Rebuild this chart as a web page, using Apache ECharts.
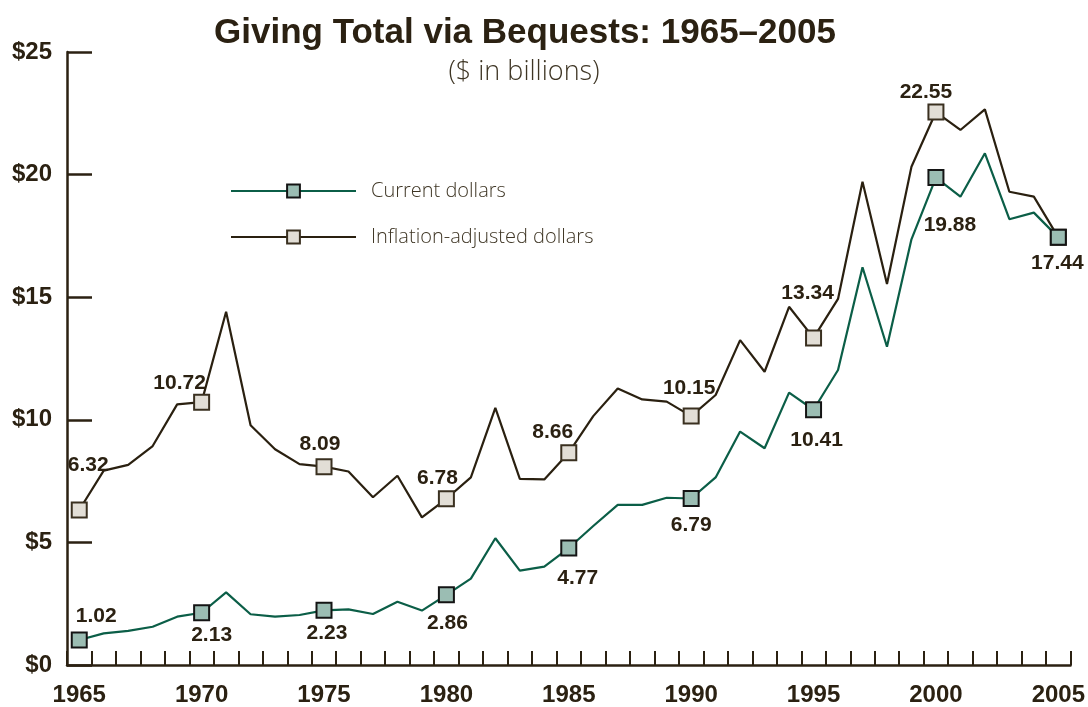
<!DOCTYPE html>
<html>
<head>
<meta charset="utf-8">
<script src="https://cdn.jsdelivr.net/npm/echarts@6/dist/echarts.min.js"></script>
<style>
  html, body { margin: 0; padding: 0; background: #ffffff; }
  #chart { width: 1088px; height: 707px; }
</style>
</head>
<body>
<div id="chart"></div>
<script>
// ---- Data ----
const years = ['1965','1966','1967','1968','1969','1970','1971','1972','1973','1974',
  '1975','1976','1977','1978','1979','1980','1981','1982','1983','1984',
  '1985','1986','1987','1988','1989','1990','1991','1992','1993','1994',
  '1995','1996','1997','1998','1999','2000','2001','2002','2003','2004','2005'];

const currentDollars = [1.02, 1.29, 1.39, 1.56, 1.97, 2.13, 2.96, 2.07, 1.97, 2.04,
  2.23, 2.27, 2.08, 2.58, 2.22, 2.86, 3.52, 5.17, 3.85, 4.01,
  4.77, 5.67, 6.53, 6.53, 6.82, 6.79, 7.65, 9.52, 8.84, 11.11,
  10.41, 12.03, 16.22, 12.98, 17.36, 19.88, 19.10, 20.87, 18.18, 18.45, 17.44];

const inflationAdjusted = [6.32, 7.93, 8.16, 8.93, 10.63, 10.72, 14.41, 9.78, 8.80, 8.19,
  8.09, 7.89, 6.84, 7.72, 6.02, 6.78, 7.65, 10.49, 7.59, 7.57,
  8.66, 10.15, 11.28, 10.83, 10.74, 10.15, 11.01, 13.25, 11.96, 14.61,
  13.34, 14.93, 19.71, 15.54, 20.32, 22.55, 21.82, 22.66, 19.30, 19.10, 17.44];

const seriesNames = ['Current dollars', 'Inflation-adjusted dollars'];
const yTicks = [0, 5, 10, 15, 20, 25];

// ---- Label placement (offsets from marker centre, px) ----
const currentLabelOffsets = {
  '1965': [17, -24], '1970': [10, 22], '1975': [3, 23], '1980': [1, 28],
  '1985': [9, 30], '1990': [0, 27], '1995': [3, 30], '2000': [14, 48], '2005': [-1, 26]
};
const inflationLabelOffsets = {
  '1965': [9, -45], '1970': [-22, -19], '1975': [-4, -22], '1980': [-9, -21],
  '1985': [-16, -20], '1990': [-2, -28], '1995': [-6, -45], '2000': [-10, -20]
};

const INK = '#2b2112';
const labelFont = "'Liberation Sans', Arial, sans-serif";
const axisFont = "'Liberation Sans', Arial, sans-serif";
const lightFont = "'Open Sans', sans-serif";

function buildData(values, offsets) {
  return values.map((v, i) => {
    const yr = years[i];
    const marked = (i % 5 === 0);
    const item = { value: v };
    if (!marked) {
      item.symbol = 'none';
    } else if (offsets[yr]) {
      item.label = {
        show: true,
        position: 'inside',
        offset: offsets[yr],
        formatter: (p) => p.value.toFixed(2)
      };
    }
    return item;
  });
}

const chart = echarts.init(document.getElementById('chart'), null, { renderer: 'canvas' });

const option = {
  backgroundColor: '#ffffff',
  animation: false,
  title: [
    {
      text: 'Giving Total via Bequests: 1965\u20132005',
      left: 520, top: 11, textAlign: 'center',
      textStyle: { fontFamily: axisFont, fontWeight: 'bold', fontSize: 35, color: INK }
    },
    {
      text: '($ in billions)',
      left: 519, top: 54, textAlign: 'center',
      textStyle: { fontFamily: lightFont, fontWeight: 300, fontSize: 27, color: '#3e3524' }
    }
  ],
  legend: {
    orient: 'vertical',
    left: 230, top: 181,
    padding: 0,
    itemWidth: 125, itemHeight: 16,
    itemGap: 26,
    data: seriesNames,
    textStyle: {
      fontFamily: lightFont, fontWeight: 300, fontSize: 20,
      color: '#3e3524', padding: [0, 0, 0, 10], lineHeight: 18
    }
  },
  grid: { left: 67, right: 16, top: 52, bottom: 42 },
  xAxis: {
    type: 'category',
    data: years,
    boundaryGap: true,
    axisLine: { lineStyle: { color: INK, width: 2.5 } },
    axisTick: { show: true, inside: true, length: 14, interval: 0, lineStyle: { color: INK, width: 2 } },
    axisLabel: {
      interval: (idx) => idx % 5 === 0,
      margin: 18,
      fontFamily: axisFont, fontWeight: 'bold', fontSize: 24, color: INK
    },
    splitLine: { show: false }
  },
  yAxis: {
    type: 'value',
    min: yTicks[0], max: yTicks[yTicks.length - 1], interval: 5,
    axisLine: { show: true, lineStyle: { color: INK, width: 2.5 } },
    axisTick: { show: true, inside: true, length: 25, lineStyle: { color: INK, width: 2.5 } },
    axisLabel: {
      margin: 15,
      formatter: (v) => '$' + v,
      fontFamily: axisFont, fontWeight: 'bold', fontSize: 24, color: INK
    },
    splitLine: { show: false }
  },
  series: [
    {
      name: seriesNames[1],
      type: 'line',
      z: 2,
      data: buildData(inflationAdjusted, inflationLabelOffsets),
      symbol: 'rect',
      symbolSize: 15,
      showAllSymbol: true,
      lineStyle: { color: '#2a2010', width: 2.2 },
      itemStyle: { color: '#e2ded6', borderColor: '#3a3020', borderWidth: 2 },
      label: { fontFamily: labelFont, fontWeight: 'bold', fontSize: 21, color: INK },
      emphasis: { disabled: true }
    },
    {
      name: seriesNames[0],
      type: 'line',
      z: 3,
      data: buildData(currentDollars, currentLabelOffsets),
      symbol: 'rect',
      symbolSize: 15,
      showAllSymbol: true,
      lineStyle: { color: '#0b5e47', width: 2.2 },
      itemStyle: { color: '#9bbdb3', borderColor: '#141414', borderWidth: 2 },
      label: { fontFamily: labelFont, fontWeight: 'bold', fontSize: 21, color: INK },
      emphasis: { disabled: true }
    }
  ]
};

chart.setOption(option);
</script>
</body>
</html>
